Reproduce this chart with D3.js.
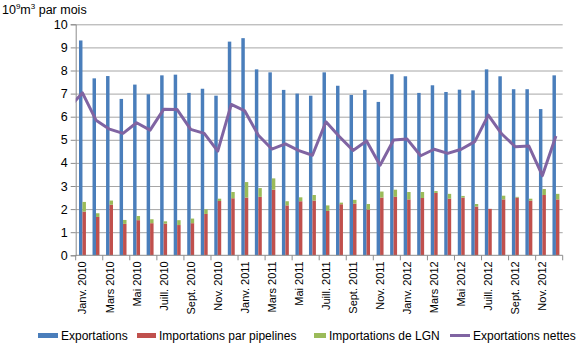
<!DOCTYPE html>
<html>
<head>
  <meta charset="utf-8">
  <script src="https://d3js.org/d3.v7.min.js"></script>
  <style>
    body { margin: 0; background: #fff; }
    text { font-family: "Liberation Sans", Arial, sans-serif; fill: #000; }
  </style>
</head>
<body>
  <div id="myDiv"></div>
  <script>
    // months shown on the x axis
    const months = [
      "Janv. 2010", "Févr. 2010", "Mars 2010", "Avr. 2010", "Mai 2010", "Juin 2010",
      "Juill. 2010", "Août 2010", "Sept. 2010", "Oct. 2010", "Nov. 2010", "Déc. 2010",
      "Janv. 2011", "Févr. 2011", "Mars 2011", "Avr. 2011", "Mai 2011", "Juin 2011",
      "Juill. 2011", "Août 2011", "Sept. 2011", "Oct. 2011", "Nov. 2011", "Déc. 2011",
      "Janv. 2012", "Févr. 2012", "Mars 2012", "Avr. 2012", "Mai 2012", "Juin 2012",
      "Juill. 2012", "Août 2012", "Sept. 2012", "Oct. 2012", "Nov. 2012", "Déc. 2012"
    ];

    // 10^9 m3 per month
    const exportations = [
      9.3, 7.66, 7.76, 6.77, 7.39, 6.97, 7.79, 7.82, 7.03, 7.21, 6.91, 9.25,
      9.4, 8.05, 7.92, 7.16, 7.0, 6.91, 7.92, 7.34, 6.94, 7.16, 6.64, 7.84,
      7.75, 7.03, 7.36, 7.07, 7.17, 7.14, 8.05, 7.75, 7.19, 7.19, 6.33, 7.79
    ];
    const pipelines = [
      1.89, 1.66, 2.19, 1.36, 1.52, 1.39, 1.37, 1.31, 1.39, 1.79, 2.35, 2.47,
      2.50, 2.53, 2.84, 2.16, 2.34, 2.37, 1.92, 2.21, 2.24, 1.98, 2.50, 2.53,
      2.42, 2.48, 2.70, 2.45, 2.50, 2.11, 2.01, 2.42, 2.50, 2.37, 2.61, 2.42
    ];
    const lgn = [
      0.42, 0.16, 0.18, 0.17, 0.18, 0.17, 0.10, 0.21, 0.20, 0.20, 0.10, 0.27,
      0.67, 0.38, 0.49, 0.18, 0.17, 0.24, 0.24, 0.07, 0.16, 0.24, 0.26, 0.31,
      0.32, 0.26, 0.08, 0.21, 0.07, 0.11, 0.0, 0.16, 0.03, 0.08, 0.26, 0.24
    ];
    const nettes = [
      7.03, 5.85, 5.46, 5.28, 5.74, 5.42, 6.32, 6.31, 5.45, 5.28, 4.51, 6.53,
      6.25, 5.2, 4.6, 4.82, 4.53, 4.33, 5.78, 5.13, 4.54, 4.95, 3.9, 4.99,
      5.03, 4.31, 4.59, 4.41, 4.59, 4.92, 6.07, 5.25, 4.7, 4.73, 3.45, 5.16
    ];
    // previous month (Déc. 2009), only its segment up to the axis is visible
    const nettesPrev = 6.4;

    const yTicks = [0, 1, 2, 3, 4, 5, 6, 7, 8, 9, 10];

    const legendItems = [
      { label: "Exportations", color: "#4a7ebb", type: "rect", x: 38, w: 20 },
      { label: "Importations par pipelines", color: "#c0504d", type: "rect", x: 137, w: 19 },
      { label: "Importations de LGN", color: "#9bbb59", type: "rect", x: 314, w: 12 },
      { label: "Exportations nettes", color: "#8064a2", type: "line", x: 450, w: 20 }
    ];

    const W = 580, H = 346;
    const plotL = 75.7, plotR = 562.7, plotT = 24.3, plotB = 255.3;

    const svg = d3.select("#myDiv").append("svg")
      .attr("width", W).attr("height", H);

    const x = d3.scaleBand().domain(months).range([plotL, plotR]).padding(0);
    const xs = d3.scaleBand().domain(["exp", "imp"])
      .range([0, x.bandwidth()]).paddingInner(0).paddingOuter(0.95);
    const y = d3.scaleLinear().domain([0, 10]).range([plotB, plotT]);

    // gridlines
    svg.append("g")
      .attr("transform", `translate(${plotL},0)`)
      .call(d3.axisLeft(y).tickValues(yTicks.slice(1)).tickSize(-(plotR - plotL)).tickFormat(""))
      .call(g => g.select(".domain").remove())
      .call(g => g.selectAll("line").attr("stroke", "#a6a6a6").attr("stroke-width", 1));

    // y axis
    svg.append("g")
      .attr("transform", `translate(${plotL},0)`)
      .call(d3.axisLeft(y).tickValues(yTicks).tickSize(5).tickPadding(3))
      .call(g => g.select(".domain").attr("stroke", "#8c8c8c"))
      .call(g => g.selectAll("line").attr("stroke", "#8c8c8c"))
      .call(g => g.selectAll("text").style("font-size", "12.5px")
        .style("font-family", "'Liberation Sans', Arial, sans-serif"));

    // exportations bars
    svg.append("g").selectAll("rect")
      .data(exportations)
      .join("rect")
      .attr("x", (d, i) => x(months[i]) + xs("exp"))
      .attr("y", d => y(d))
      .attr("width", xs.bandwidth())
      .attr("height", d => y(0) - y(d))
      .attr("fill", "#4a7ebb");

    // pipeline imports
    svg.append("g").selectAll("rect")
      .data(pipelines)
      .join("rect")
      .attr("x", (d, i) => x(months[i]) + xs("imp"))
      .attr("y", d => y(d))
      .attr("width", xs.bandwidth())
      .attr("height", d => y(0) - y(d))
      .attr("fill", "#c0504d");

    // LGN imports stacked on pipelines
    svg.append("g").selectAll("rect")
      .data(lgn)
      .join("rect")
      .attr("x", (d, i) => x(months[i]) + xs("imp"))
      .attr("y", (d, i) => y(pipelines[i] + d))
      .attr("width", xs.bandwidth())
      .attr("height", (d, i) => y(pipelines[i]) - y(pipelines[i] + d))
      .attr("fill", "#9bbb59");

    // x axis
    const xAxis = svg.append("g");
    xAxis.append("line")
      .attr("x1", plotL).attr("x2", plotR)
      .attr("y1", plotB).attr("y2", plotB)
      .attr("stroke", "#8c8c8c");
    const tickIdx = d3.range(0, months.length + 1, 2);
    xAxis.selectAll(".tk")
      .data(tickIdx)
      .join("line")
      .attr("class", "tk")
      .attr("x1", i => plotL + i * x.step())
      .attr("x2", i => plotL + i * x.step())
      .attr("y1", plotB).attr("y2", plotB + 5)
      .attr("stroke", "#8c8c8c");
    xAxis.selectAll(".lb")
      .data(months.filter((m, i) => i % 2 === 0))
      .join("text")
      .attr("class", "lb")
      .attr("transform", d => `translate(${x(d) + x.bandwidth() / 2 + 4},${plotB + 6}) rotate(-90)`)
      .attr("text-anchor", "end")
      .style("font-size", "11px")
      .text(d => d);

    // net exports line
    svg.append("clipPath").attr("id", "plotClip")
      .append("rect").attr("x", plotL).attr("y", 0)
      .attr("width", plotR - plotL + 10).attr("height", H);

    const linePts = [[-1, nettesPrev]].concat(nettes.map((d, i) => [i, d]));
    const line = d3.line()
      .x(p => p[0] < 0 ? x(months[0]) - x.step() + x.bandwidth() / 2 : x(months[p[0]]) + x.bandwidth() / 2)
      .y(p => y(p[1]));
    svg.append("path")
      .datum(linePts)
      .attr("clip-path", "url(#plotClip)")
      .attr("d", line)
      .attr("fill", "none")
      .attr("stroke", "#8064a2")
      .attr("stroke-width", 3)
      .attr("stroke-linejoin", "round");

    // unit label
    const title = svg.append("text")
      .attr("x", 2).attr("y", 14)
      .style("font-size", "12.5px");
    title.append("tspan").text("10");
    title.append("tspan").attr("dy", -5).style("font-size", "8px").text("9");
    title.append("tspan").attr("dy", 5).text("m");
    title.append("tspan").attr("dy", -5).style("font-size", "8px").text("3");
    title.append("tspan").attr("dy", 5).text(" par mois");

    // legend
    const lg = svg.append("g");
    legendItems.forEach(it => {
      if (it.type === "rect") {
        lg.append("rect").attr("x", it.x).attr("y", 333).attr("width", it.w).attr("height", 5)
          .attr("fill", it.color);
      } else {
        lg.append("line").attr("x1", it.x).attr("x2", it.x + it.w)
          .attr("y1", 335.5).attr("y2", 335.5)
          .attr("stroke", it.color).attr("stroke-width", 3);
      }
      lg.append("text")
        .attr("x", it.x + it.w + 3).attr("y", 340)
        .style("font-size", "12px")
        .text(it.label);
    });
  </script>
</body>
</html>
